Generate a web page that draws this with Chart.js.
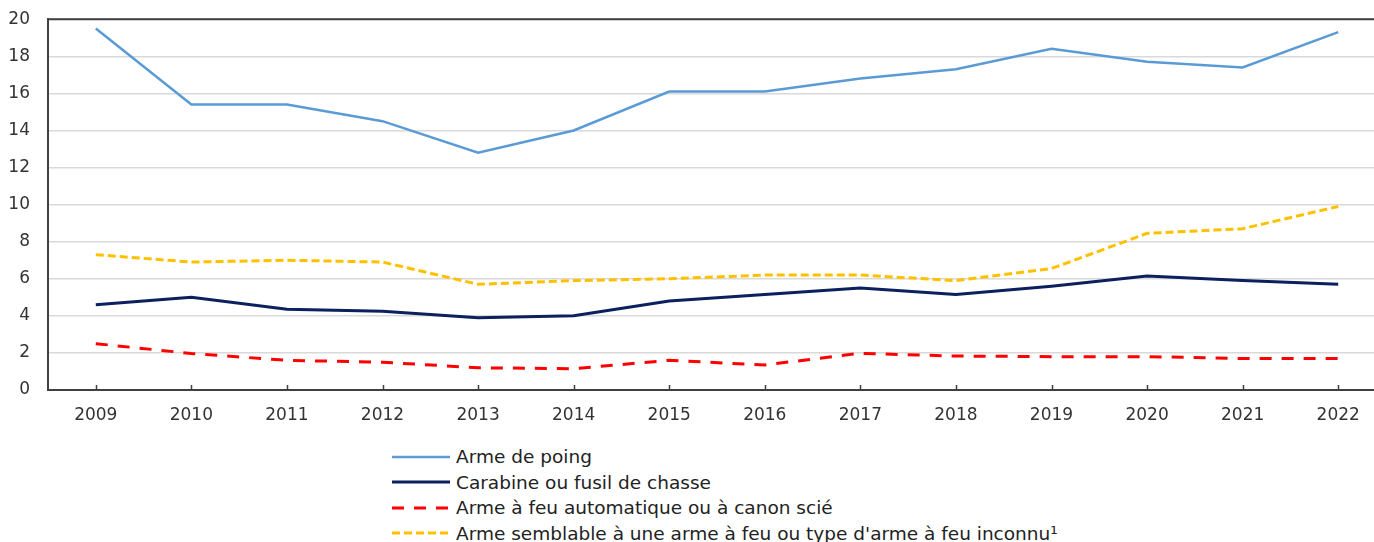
<!DOCTYPE html>
<html>
<head>
<meta charset="utf-8">
<script src="https://cdn.jsdelivr.net/npm/chart.js@4/dist/chart.umd.min.js"></script>
<style>
    body { margin: 0; background: #fff; overflow: hidden; }
    #wrap { position: absolute; left: 0; top: -9px; width: 1386px; height: 439px; }
    #legend { position: absolute; left: 392px; top: 444px; font-family: "DejaVu Sans", Verdana, sans-serif; font-size: 18.5px; color: #222; }
    .row { height: 25.5px; display: flex; align-items: center; white-space: nowrap; }
    .row svg { margin-right: 6px; }
</style>
</head>
<body>
<div id="wrap"><canvas id="chart" width="1386" height="439"></canvas></div>
<div id="legend"></div>
<script>
const years = ['2009', '2010', '2011', '2012', '2013', '2014', '2015', '2016', '2017', '2018', '2019', '2020', '2021', '2022'];
const yTicks = [0, 2, 4, 6, 8, 10, 12, 14, 16, 18, 20];

const seriesNames = [
    'Arme de poing',
    'Carabine ou fusil de chasse',
    'Arme à feu automatique ou à canon scié',
    "Arme semblable à une arme à feu ou type d'arme à feu inconnu¹"
];
const armeDePoing = [19.5, 15.4, 15.4, 14.5, 12.8, 14.0, 16.1, 16.1, 16.8, 17.3, 18.4, 17.7, 17.4, 19.3];
const carabine = [4.6, 5.0, 4.35, 4.25, 3.9, 4.0, 4.8, 5.15, 5.5, 5.15, 5.6, 6.15, 5.9, 5.7];
const automatique = [2.5, 1.97, 1.6, 1.5, 1.2, 1.15, 1.6, 1.35, 1.98, 1.83, 1.8, 1.8, 1.7, 1.7];
const semblable = [7.3, 6.9, 7.0, 6.9, 5.7, 5.9, 6.0, 6.2, 6.2, 5.9, 6.55, 8.45, 8.7, 9.9];

const colors = ['#5b9bd5', '#0c1f5e', '#ff0000', '#ffc000'];
const dashes = [[], [], [12, 10], [8, 4]];
const widths = [2.5, 3, 3, 3];

// Top frame line and small tick marks pointing up from the x axis
const frame = {
    id: 'frame',
    afterDraw(chart) {
        const x = chart.scales.x;
        const area = chart.chartArea;
        const ctx = chart.ctx;
        ctx.save();
        ctx.strokeStyle = '#404040';
        ctx.lineWidth = 2;
        ctx.beginPath();
        ctx.moveTo(area.left, area.top);
        ctx.lineTo(area.right, area.top);
        ctx.stroke();
        ctx.lineWidth = 1.5;
        years.forEach((y, i) => {
            const px = Math.round(x.getPixelForTick(i)) + 0.5;
            ctx.beginPath();
            ctx.moveTo(px, x.top);
            ctx.lineTo(px, x.top - 5);
            ctx.stroke();
        });
        ctx.restore();
    }
};

const chart = new Chart(document.getElementById('chart'), {
    type: 'line',
    data: {
        labels: years,
        datasets: [armeDePoing, carabine, automatique, semblable].map((d, i) => ({
            label: seriesNames[i],
            data: d,
            borderColor: colors[i],
            backgroundColor: colors[i],
            borderWidth: widths[i],
            borderDash: dashes[i],
            pointRadius: 0,
            tension: 0
        }))
    },
    options: {
        responsive: false,
        animation: false,
        layout: { padding: { top: 10, right: 0, left: 0, bottom: 0 } },
        plugins: { legend: { display: false }, tooltip: { enabled: false } },
        scales: {
            x: {
                offset: true,
                grid: { display: false, offset: false },
                border: { display: true, color: '#404040', width: 2 },
                ticks: { color: '#333', padding: 7, font: { family: 'DejaVu Sans', size: 17 } },
                afterFit(s) { s.height = 40; }
            },
            y: {
                min: 0,
                max: 20,
                afterBuildTicks(s) { s.ticks = yTicks.map(v => ({ value: v })); },
                grid: { color: '#d9d9d9', lineWidth: 1.5, drawTicks: false },
                border: { display: true, color: '#404040', width: 2 },
                ticks: { color: '#333', padding: 18, font: { family: 'DejaVu Sans', size: 17 } },
                afterFit(s) { s.width = 48; }
            }
        }
    },
    plugins: [frame]
});

// Build the legend as a left-aligned column
const legend = document.getElementById('legend');
chart.data.datasets.forEach(ds => {
    const row = document.createElement('div');
    row.className = 'row';
    row.innerHTML = `<svg width="58" height="6"><line x1="0" y1="3" x2="58" y2="3" stroke="${ds.borderColor}" stroke-width="${ds.borderWidth}" stroke-dasharray="${ds.borderDash.join(' ')}"/></svg><span>${ds.label}</span>`;
    legend.appendChild(row);
});
</script>
</body>
</html>
